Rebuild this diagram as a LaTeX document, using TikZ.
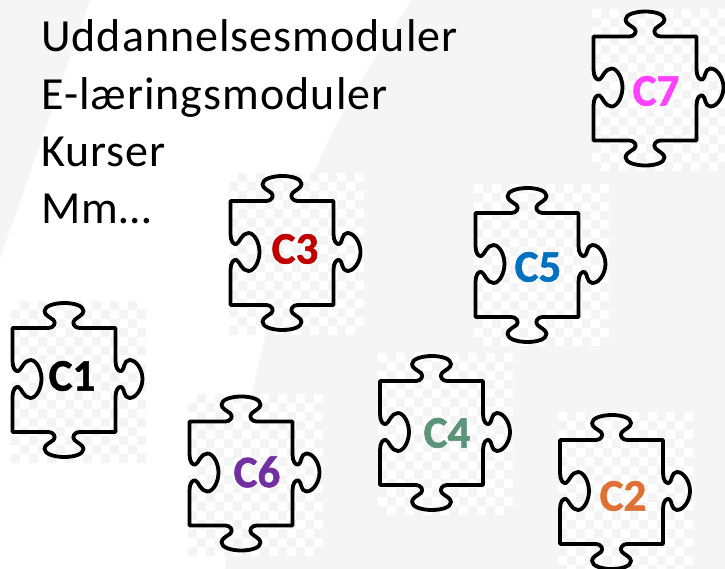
\documentclass[tikz,border=0pt]{standalone}
\usepackage{fontspec}
\setmainfont{Carlito}
\newfontfamily\listfont[LetterSpace=2.2]{Carlito}
\newfontfamily\tagfont[BoldFeatures={FakeBold=1.2}]{Carlito}
\definecolor{bggray}{HTML}{F5F5F5}
\definecolor{cellgray}{HTML}{F4F4F4}
\definecolor{cthree}{HTML}{C00000}
\definecolor{cfive}{HTML}{0070C0}
\definecolor{cseven}{HTML}{FF40FF}
\definecolor{csix}{HTML}{7030A0}
\definecolor{cfour}{HTML}{5B9478}
\definecolor{ctwo}{HTML}{DF7135}
\tikzset{
  outline/.style={draw=black,line width=3.8pt,line join=round,line cap=round},
  listtext/.style={anchor=base west,inner sep=0pt,font=\listfont\fontsize{46}{52}\selectfont},
  tag/.style={inner sep=0pt,font=\tagfont\fontsize{45}{52}\selectfont\bfseries}
}
\newcommand{\puzzlepiece}[5]{% x y of sheet, x y of body corner, name
  \begin{scope}
    \clip (#1,#2) rectangle ++(135,162);
    \fill[white] (#1,#2) rectangle ++(135,162);
    \foreach \i in {0,...,14}{
      \foreach \j in {0,...,17}{
        \pgfmathparse{int(mod(\i+\j,2))}
        \ifnum\pgfmathresult=1
          \fill[cellgray] ({#1+9*\i},{#2+9*\j}) rectangle ++(9,9);
        \fi
      }
    }
  \end{scope}
  \begin{scope}[shift={(#3,#4)}]
    \draw[outline] (0,0) -- (36,0)
      .. controls (41,0) and (44,-5) .. (41,-8)
      .. controls (37,-11) and (32,-13) .. (32,-17)
      .. controls (32,-22) and (42,-25) .. (52,-25)
      .. controls (62,-25) and (71,-22) .. (71,-17)
      .. controls (71,-13) and (65,-11) .. (62,-8)
      .. controls (59,-5) and (62,0) .. (67,0)
      -- (103,0) -- (103,33)
      .. controls (103,40) and (106,44) .. (109,43)
      .. controls (112,42) and (111,32) .. (117,32)
      .. controls (124,32) and (130,42) .. (130,51)
      .. controls (130,60) and (124,70) .. (117,70)
      .. controls (111,70) and (112,60) .. (109,59)
      .. controls (106,58) and (103,62) .. (103,69)
      -- (103,104) -- (67,104)
      .. controls (62,104) and (59,109) .. (62,112)
      .. controls (65,115) and (71,117) .. (71,121)
      .. controls (71,126) and (62,129) .. (52,129)
      .. controls (42,129) and (32,126) .. (32,121)
      .. controls (32,117) and (37,115) .. (41,112)
      .. controls (44,109) and (41,104) .. (36,104)
      -- (0,104) -- (0,69)
      .. controls (0,62) and (3,58) .. (6,59)
      .. controls (9,60) and (11,70) .. (18,70)
      .. controls (24,70) and (29,60) .. (29,51)
      .. controls (29,42) and (24,32) .. (18,32)
      .. controls (11,32) and (9,42) .. (6,43)
      .. controls (3,44) and (0,40) .. (0,33)
      -- cycle;
  \end{scope}
}
\begin{document}
\begin{tikzpicture}[x=1pt,y=-1pt]
  \useasboundingbox (0,0) rectangle (725,569);
  \clip (0,0) rectangle (725,569);
  \fill[bggray] (0,0) rectangle (725,569);
  \fill[white] (90,0) -- (0,260) -- (0,569) -- (225,569)
     .. controls (230,480) and (265,310) .. (315,170)
     .. controls (340,110) and (380,50) .. (411,0) -- cycle;

  \puzzlepiece{11}{301}{12.5}{328}{c1}
  \puzzlepiece{229}{173}{230.5}{201}{c3}
  \puzzlepiece{474}{184}{475.5}{213}{c5}
  \puzzlepiece{592}{9}{593.5}{36.5}{c7}
  \puzzlepiece{188}{394}{189.5}{421.5}{c6}
  \puzzlepiece{378}{353}{380}{381}{c4}
  \puzzlepiece{558}{412}{560}{440}{c2}

  \node[listtext] (l1) at (41,52) {Uddannelsesmoduler};
  \node[listtext] (l2) at (41,109.5) {E-læringsmoduler};
  \node[listtext] (l3) at (41,167) {Kurser};
  \node[listtext] (l4) at (41,224) {Mm…};

  \node[tag,text=black] (c1) at (72,376) {C1};
  \node[tag,text=cthree] (c3) at (295,249) {C3};
  \node[tag,text=cfive] (c5) at (538,267) {C5};
  \node[tag,text=cseven] (c7) at (656,91) {C7};
  \node[tag,text=csix] (c6) at (257,472) {C6};
  \node[tag,text=cfour] (c4) at (447,433) {C4};
  \node[tag,text=ctwo] (c2) at (623,496) {C2};
\end{tikzpicture}
\end{document}
